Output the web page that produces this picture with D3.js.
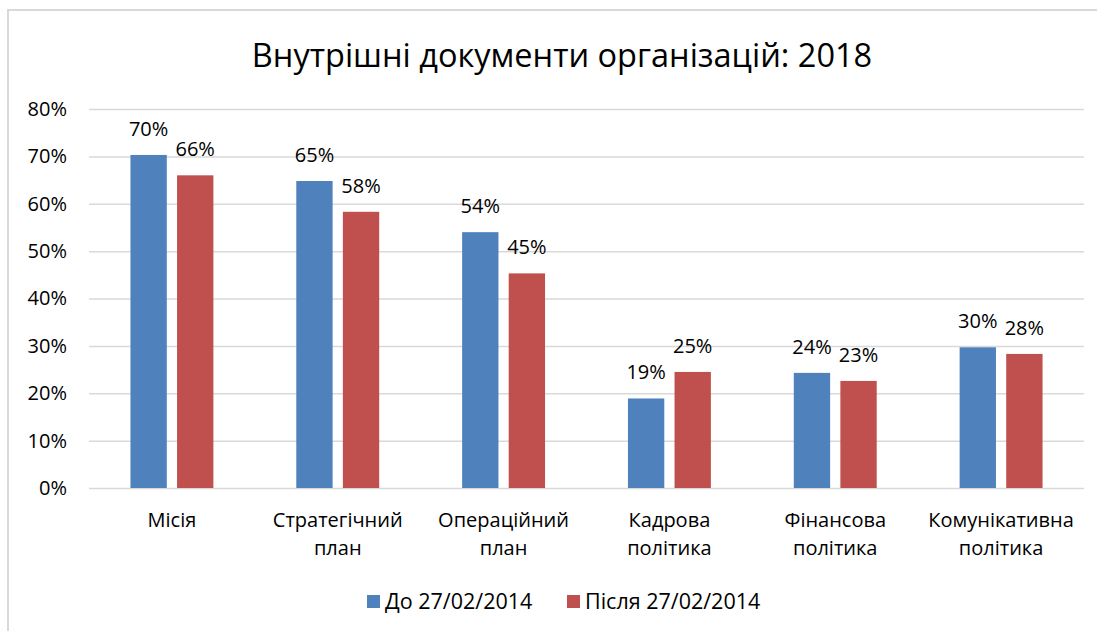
<!DOCTYPE html>
<html>
<head>
<meta charset="utf-8">
<script src="https://cdn.jsdelivr.net/npm/d3@7"></script>
<style>
  body { margin: 0; background: #fff; }
  text { font-family: "Open Sans", "Noto Sans", sans-serif; fill: #000; }
</style>
</head>
<body>
<svg width="1097" height="631"></svg>
<script>
let categories = [["Місія"], ["Стратегічний", "план"], ["Операційний", "план"],
                  ["Кадрова", "політика"], ["Фінансова", "політика"], ["Комунікативна", "політика"]],
    seriesNames = ["До 27/02/2014", "Після 27/02/2014"],
    before = [0.703, 0.648, 0.540, 0.189, 0.243, 0.297],
    after = [0.660, 0.583, 0.453, 0.245, 0.226, 0.283],
    yTicks = [0, 0.1, 0.2, 0.3, 0.4, 0.5, 0.6, 0.7, 0.8],
    colors = ["#4f81bd", "#c0504d"];

let svg = d3.select("svg"),
    width = +svg.attr("width"),
    height = +svg.attr("height");

// chart area border (only left and top are visible in the reference)
svg.append("path")
    .attr("d", "M8,631 V10 H1097")
    .attr("fill", "none")
    .attr("stroke", "#d9d9d9")
    .attr("stroke-width", 2);

svg.append("text")
    .attr("x", 562).attr("y", 67)
    .attr("text-anchor", "middle")
    .attr("font-size", 32.5)
    .text("Внутрішні документи організацій: 2018");

let keys = categories.map(function(d) { return d.join(" "); });

let x = d3.scaleBand().domain(keys).range([89, 1084]),
    x1 = d3.scaleBand().domain(seriesNames).paddingInner(0.22),
    y = d3.scaleLinear().domain([0, 0.8]).range([488, 109]);

let group = x.bandwidth() * 0.5;
x1.range([(x.bandwidth() - group) / 2, (x.bandwidth() + group) / 2]);

// grid + y labels
let yAxis = svg.append("g")
    .attr("transform", "translate(89,0)")
    .call(d3.axisLeft(y).tickValues(yTicks).tickFormat(d3.format(".0%")).tickSize(-(1084 - 89)).tickPadding(22));
yAxis.select(".domain").remove();
yAxis.selectAll("line").attr("stroke", "#d9d9d9").attr("stroke-width", 1.5);
yAxis.selectAll("text").attr("font-size", 20).attr("font-family", "Open Sans").attr("fill", "#000");

let rows = keys.map(function(k, i) {
  return [{ key: k, s: seriesNames[0], v: before[i] }, { key: k, s: seriesNames[1], v: after[i] }];
});

let groups = svg.append("g").selectAll("g")
    .data(rows)
    .join("g")
    .attr("transform", function(d) { return "translate(" + x(d[0].key) + ",0)"; });

groups.selectAll("rect")
    .data(function(d) { return d; })
    .join("rect")
    .attr("x", function(d) { return x1(d.s); })
    .attr("y", function(d) { return y(d.v); })
    .attr("width", x1.bandwidth())
    .attr("height", function(d) { return y(0) - y(d.v); })
    .attr("fill", function(d, i) { return colors[i]; });

groups.selectAll("text.val")
    .data(function(d) { return d; })
    .join("text")
    .attr("class", "val")
    .attr("x", function(d) { return x1(d.s) + x1.bandwidth() / 2; })
    .attr("y", function(d) { return y(d.v) - 19; })
    .attr("text-anchor", "middle")
    .attr("font-size", 20)
    .text(function(d) { return d3.format(".0%")(d.v); });

// category labels
let catLabels = svg.append("g").selectAll("text")
    .data(categories)
    .join("text")
    .attr("text-anchor", "middle")
    .attr("font-size", 20)
    .attr("y", 527);
catLabels.selectAll("tspan")
    .data(function(d, i) { return d.map(function(t) { return { t: t, k: keys[i] }; }); })
    .join("tspan")
    .attr("x", function(d) { return x(d.k) + x.bandwidth() / 2; })
    .attr("dy", function(d, i) { return i ? 28 : 0; })
    .text(function(d) { return d.t; });

// legend
let legendX = [367, 567];
let legend = svg.append("g").selectAll("g")
    .data(seriesNames)
    .join("g")
    .attr("transform", function(d, i) { return "translate(" + legendX[i] + ",595)"; });
legend.append("rect")
    .attr("width", 13).attr("height", 13)
    .attr("fill", function(d, i) { return colors[i]; });
legend.append("text")
    .attr("x", 18).attr("y", 14)
    .attr("font-size", 21.5)
    .text(function(d) { return d; });
</script>
</body>
</html>
